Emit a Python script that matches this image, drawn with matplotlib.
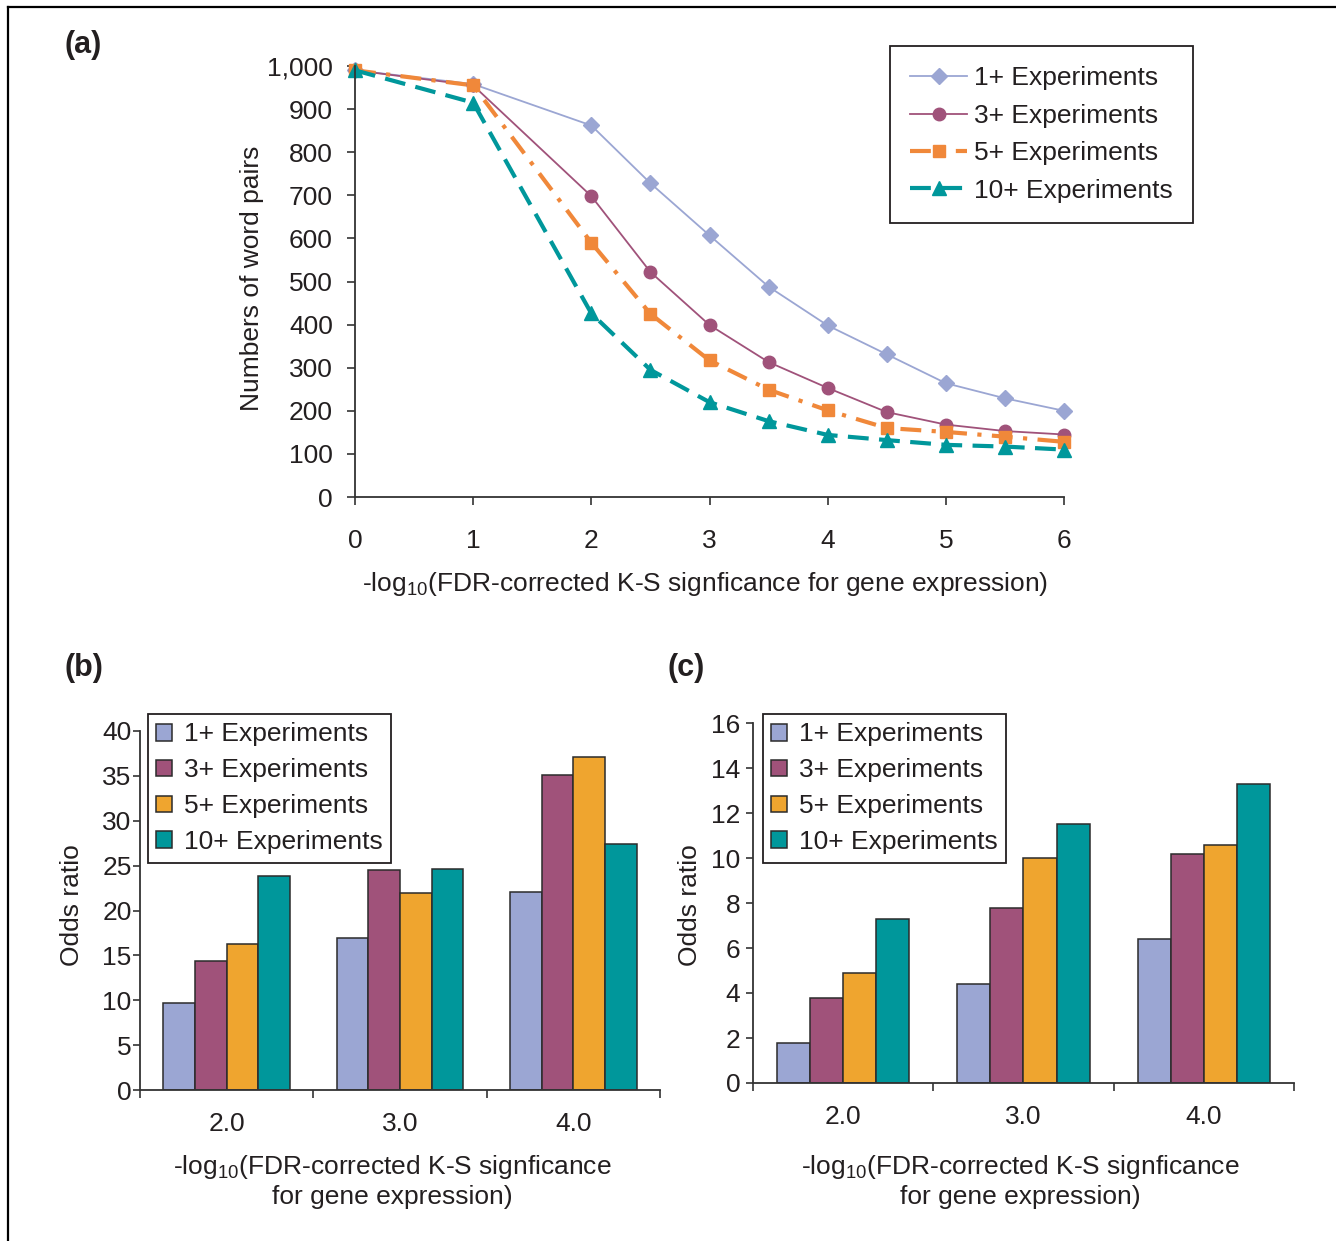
import matplotlib
matplotlib.use("Agg")
import matplotlib.pyplot as plt
from matplotlib.lines import Line2D
from matplotlib.ticker import FuncFormatter

plt.rcParams["font.family"] = ["Liberation Sans", "DejaVu Sans"]
plt.rcParams["mathtext.fontset"] = "custom"
plt.rcParams["mathtext.rm"] = "Liberation Sans"
plt.rcParams["mathtext.it"] = "Liberation Sans:italic"
plt.rcParams["text.color"] = "#231f20"
plt.rcParams["xtick.color"] = "#333333"
plt.rcParams["ytick.color"] = "#333333"
plt.rcParams["xtick.labelcolor"] = "#231f20"
plt.rcParams["ytick.labelcolor"] = "#231f20"

# ---- data ----
series_names = ["1+ Experiments", "3+ Experiments", "5+ Experiments", "10+ Experiments"]

# panel (a): number of word pairs vs significance threshold
thresholds = [0, 1, 2, 2.5, 3, 3.5, 4, 4.5, 5, 5.5, 6]
pairs_1 = [990, 958, 862, 728, 607, 488, 398, 331, 264, 229, 200]
pairs_3 = [990, 955, 698, 522, 399, 313, 253, 197, 168, 153, 145]
pairs_5 = [990, 955, 590, 425, 317, 249, 201, 160, 151, 140, 128]
pairs_10 = [990, 915, 426, 295, 220, 176, 144, 132, 121, 117, 110]

# panels (b) and (c): odds ratios
categories = ["2.0", "3.0", "4.0"]
odds_b_1 = [9.7, 16.9, 22.1]
odds_b_3 = [14.4, 24.5, 35.1]
odds_b_5 = [16.3, 21.9, 37.1]
odds_b_10 = [23.8, 24.6, 27.4]

odds_c_1 = [1.8, 4.4, 6.4]
odds_c_3 = [3.8, 7.8, 10.2]
odds_c_5 = [4.9, 10.0, 10.6]
odds_c_10 = [7.3, 11.5, 13.3]

line_colors = ["#9ba6d3", "#a0527a", "#f0883a", "#00979b"]
bar_colors = ["#9ba6d3", "#a0527a", "#efa52f", "#00979b"]

W, H = 1336, 1241
fig = plt.figure(figsize=(W / 100, H / 100), dpi=100)


def box(l, t, r, b):
    return [l / W, 1 - b / H, (r - l) / W, (b - t) / H]


def style_axes(ax):
    for s in ["top", "right"]:
        ax.spines[s].set_visible(False)
    for s in ["left", "bottom"]:
        ax.spines[s].set_color("#333333")
        ax.spines[s].set_linewidth(1.3)


# ---- panel (a) ----
ax = fig.add_axes(box(355, 66, 1064, 497))
style_axes(ax)
line_specs = [
    (pairs_1, 1.3, "solid", "D", 8),
    (pairs_3, 1.3, "solid", "o", 9),
    (pairs_5, 3.0, (0, (5, 2.5, 1, 2.5)), "s", 8.5),
    (pairs_10, 3.0, (0, (5, 2.5)), "^", 10),
]
for i, (vals, lw, ls, mk, ms) in enumerate(line_specs):
    ax.plot(thresholds, vals, color=line_colors[i], lw=lw, ls=ls, marker=mk, ms=ms,
            label=series_names[i], clip_on=False)
ax.set_xlim(0, 6)
ax.set_ylim(0, 1000)
ax.set_xticks(range(0, 7))
ax.set_yticks(range(0, 1001, 100))
ax.yaxis.set_major_formatter(FuncFormatter(lambda v, p: f"{int(v):,}"))
ax.tick_params(axis="y", direction="out", length=6, width=1.2, pad=10, labelsize=19)
ax.tick_params(axis="x", direction="out", length=6, width=1.2, pad=17, labelsize=19)
leg_a = fig.legend(handles=ax.get_lines(), loc="upper left",
                   bbox_to_anchor=(890 / W, 1 - 46 / H),
                   bbox_transform=fig.transFigure, fontsize=19, frameon=True,
                   fancybox=False, edgecolor="#231f20", framealpha=1,
                   handlelength=2.15, handletextpad=0.25, labelspacing=0.51,
                   borderpad=0.77, borderaxespad=0)
leg_a.get_frame().set_linewidth(1.3)

fig.text(252 / W, 1 - 278 / H, "Numbers of word pairs", rotation=90,
         ha="center", va="center", fontsize=19)
fig.text(705 / W, 1 - 584 / H,
         "-log$_{10}$(FDR-corrected K-S signficance for gene expression)",
         ha="center", va="center", fontsize=19)


# ---- panels (b) and (c) ----
def bar_panel(rect, values, ymax, ystep, ytick_pad):
    ax = fig.add_axes(rect)
    style_axes(ax)
    n = len(values)
    width = 0.183
    for i, vals in enumerate(values):
        offs = (i - (n - 1) / 2) * width
        ax.bar([k + offs for k in range(len(categories))], vals, width=width,
               color=bar_colors[i], edgecolor="#2b2b2b", linewidth=1.1,
               label=series_names[i])
    ax.set_xlim(-0.5, len(categories) - 0.5)
    ax.set_ylim(0, ymax)
    ax.set_yticks(range(0, ymax + 1, ystep))
    ax.set_xticks(range(len(categories)))
    ax.set_xticklabels(categories)
    ax.set_xticks([k - 0.5 for k in range(len(categories) + 1)], minor=True)
    ax.tick_params(axis="x", which="major", length=0, pad=15.5, labelsize=19)
    ax.tick_params(axis="x", which="minor", length=6, width=1.2, direction="out")
    ax.tick_params(axis="y", direction="out", length=5, width=1.2, pad=ytick_pad,
                   labelsize=19)
    return ax


ax_b = bar_panel(box(140, 731, 660, 1090), [odds_b_1, odds_b_3, odds_b_5, odds_b_10],
                 40, 5, 1)
ax_c = bar_panel(box(753, 723, 1294, 1083), [odds_c_1, odds_c_3, odds_c_5, odds_c_10],
                 16, 2, 4)

for axx, left in [(ax_b, 148), (ax_c, 763)]:
    leg = axx.legend(loc="upper left", bbox_to_anchor=(left / W, 1 - 714 / H),
                     bbox_transform=fig.transFigure, fontsize=19, frameon=True,
                     fancybox=False, edgecolor="#231f20", framealpha=1,
                     handlelength=0.6, handleheight=0.6, handletextpad=0.45,
                     labelspacing=0.45, borderpad=0.32, borderaxespad=0)
    leg.get_frame().set_linewidth(1.3)

xlab2 = "-log$_{10}$(FDR-corrected K-S signficance\nfor gene expression)"
for cx, cy in [(72, 905), (690, 905)]:
    fig.text(cx / W, 1 - cy / H, "Odds ratio", rotation=90, ha="center",
             va="center", fontsize=19)
for cx in [392, 1020]:
    fig.text(cx / W, 1 - 1181 / H, xlab2, ha="center", va="center",
             fontsize=19, linespacing=1.25)

# panel letters
for txt, x, y in [("(a)", 83, 45), ("(b)", 84, 668), ("(c)", 686, 668)]:
    fig.text(x / W, 1 - y / H, txt, ha="center", va="center", fontsize=22,
             fontweight="bold")

# outer frame (top and left edges)
fig.add_artist(Line2D([8 / W, 1], [1 - 7 / H, 1 - 7 / H], color="black", lw=1.6,
                      transform=fig.transFigure))
fig.add_artist(Line2D([8 / W, 8 / W], [0, 1 - 7 / H], color="black", lw=1.6,
                      transform=fig.transFigure))

fig.savefig("out.png", dpi=100)
